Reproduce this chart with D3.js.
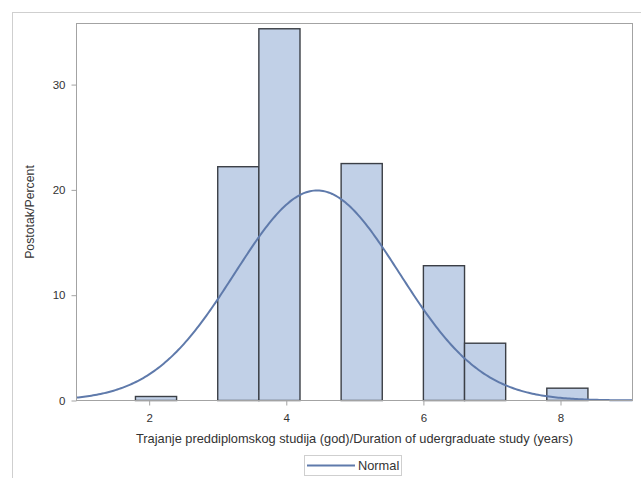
<!DOCTYPE html>
<html>
<head>
<meta charset="utf-8">
<script src="https://cdn.jsdelivr.net/npm/d3@7/dist/d3.min.js"></script>
<style>
html,body{margin:0;padding:0;background:#fff;}
svg{display:block;}
text{font-family:"Liberation Sans",Arial,sans-serif;}
</style>
</head>
<body>
<svg id="chart" width="641" height="478"></svg>
<script>
// Histogram bins (years) and percentages
const binStarts = [1.8, 3.0, 3.6, 4.8, 6.0, 6.6, 7.8];
const binWidth = 0.6;
const percents = [0.38, 22.2, 35.3, 22.5, 12.8, 5.44, 1.17];
// Fitted normal parameters
const normalMu = 4.45;
const normalSigma = 1.2;
// Axis ticks
const xTicks = [2, 4, 6, 8];
const yTicks = [0, 10, 20, 30];
const xTitle = "Trajanje preddiplomskog studija (god)/Duration of udergraduate study (years)";
const yTitle = "Postotak/Percent";
const legendLabel = "Normal";

const svg = d3.select("#chart");
const W = 641, H = 478;
const plot = {left: 76.5, right: 632.5, top: 23.5, bottom: 400.5};

// outer border
svg.append("rect").attr("x", 12.5).attr("y", 12.5).attr("width", W).attr("height", H)
  .attr("fill", "none").attr("stroke", "#cfcfcf").attr("stroke-width", 1);

const x = d3.scaleLinear().domain([0.94, 9.05]).range([plot.left, plot.right]);
const y = d3.scaleLinear().domain([0, 35.8]).range([plot.bottom, plot.top]);

// bars
svg.append("g").selectAll("rect").data(binStarts.map((s, i) => ({s, p: percents[i]})))
  .join("rect")
  .attr("x", d => x(d.s))
  .attr("width", d => x(d.s + binWidth) - x(d.s))
  .attr("y", d => y(d.p))
  .attr("height", d => y(0) - y(d.p))
  .attr("fill", "#c1d0e7")
  .attr("stroke", "#3b3f46")
  .attr("stroke-width", 1.4);

// normal curve
const pts = d3.range(0, 301).map(i => {
  const xv = x.domain()[0] + (x.domain()[1] - x.domain()[0]) * i / 300;
  const z = (xv - normalMu) / normalSigma;
  const yv = 100 * binWidth * Math.exp(-0.5 * z * z) / (normalSigma * Math.sqrt(2 * Math.PI));
  return [xv, yv];
});
svg.append("path").datum(pts)
  .attr("d", d3.line().x(d => x(d[0])).y(d => y(d[1])))
  .attr("fill", "none").attr("stroke", "#5f7aab").attr("stroke-width", 2);

// frame
svg.append("rect").attr("x", plot.left).attr("y", plot.top)
  .attr("width", plot.right - plot.left).attr("height", plot.bottom - plot.top)
  .attr("fill", "none").attr("stroke", "#a3a3a3").attr("stroke-width", 1);

// axes
const xAxis = svg.append("g").attr("transform", `translate(0,${plot.bottom})`)
  .call(d3.axisBottom(x).tickValues(xTicks).tickFormat(d3.format("d")).tickSize(5).tickPadding(8));
const yAxis = svg.append("g").attr("transform", `translate(${plot.left},0)`)
  .call(d3.axisLeft(y).tickValues(yTicks).tickFormat(d3.format("d")).tickSize(5).tickPadding(6));
[xAxis, yAxis].forEach(g => {
  g.select(".domain").remove();
  g.selectAll(".tick line").attr("stroke", "#a3a3a3");
  g.selectAll(".tick text").attr("fill", "#333").style("font-size", "11.5px")
    .style("font-family", "'Liberation Sans',Arial,sans-serif");
});

// titles
svg.append("text").attr("x", (plot.left + plot.right) / 2).attr("y", 443)
  .attr("text-anchor", "middle").attr("fill", "#333").style("font-size", "12.8px")
  .text(xTitle);
svg.append("text").attr("transform", `translate(34,${(plot.top + plot.bottom) / 2}) rotate(-90)`)
  .attr("text-anchor", "middle").attr("fill", "#333").style("font-size", "12.3px")
  .text(yTitle);

// legend
const lg = svg.append("g");
lg.append("rect").attr("x", 304.5).attr("y", 455.5).attr("width", 97).attr("height", 20)
  .attr("fill", "#fff").attr("stroke", "#cfcfcf");
lg.append("line").attr("x1", 307).attr("x2", 355).attr("y1", 465.5).attr("y2", 465.5)
  .attr("stroke", "#5f7aab").attr("stroke-width", 2);
lg.append("text").attr("x", 358).attr("y", 469.5).attr("fill", "#333").style("font-size", "12.8px")
  .text(legendLabel);
</script>
</body>
</html>
